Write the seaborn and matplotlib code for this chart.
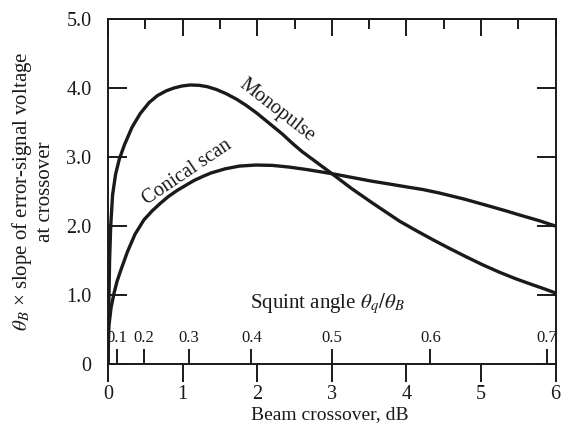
import numpy as np
import pandas as pd
import matplotlib
matplotlib.use("Agg")
import matplotlib.pyplot as plt
import seaborn as sns
from matplotlib.ticker import MultipleLocator

# ---- data ----
mono_db = [0.0, 0.005, 0.012, 0.02, 0.035, 0.06, 0.1, 0.15, 0.22, 0.32, 0.43, 0.55,
           0.66, 0.78, 0.88, 0.99, 1.1, 1.22, 1.33, 1.45, 1.58, 1.72, 1.85, 1.99,
           2.16, 2.34, 2.47, 2.6, 2.8, 3.0, 3.27, 3.55, 3.73, 3.91, 4.13, 4.35,
           4.58, 4.81, 5.03, 5.25, 5.47, 5.69, 5.85, 6.0]
mono_val = [0.0, 0.5, 1.0, 1.5, 2.0, 2.45, 2.75, 2.97, 3.18, 3.43, 3.63, 3.79,
            3.89, 3.96, 4.0, 4.03, 4.045, 4.04, 4.02, 3.98, 3.92, 3.84, 3.75, 3.64,
            3.49, 3.33, 3.2, 3.08, 2.92, 2.76, 2.54, 2.33, 2.2, 2.07, 1.935, 1.805,
            1.675, 1.55, 1.435, 1.33, 1.235, 1.15, 1.09, 1.03]
con_db = [0.0, 0.005, 0.01, 0.04, 0.08, 0.12, 0.17, 0.26, 0.36, 0.48, 0.59, 0.7,
          0.81, 0.93, 1.04, 1.15, 1.27, 1.38, 1.57, 1.76, 1.98, 2.2, 2.43, 2.66,
          2.83, 3.0, 3.27, 3.54, 3.77, 3.99, 4.22, 4.44, 4.78, 5.11, 5.32, 5.52,
          5.79, 6.0]
con_val = [0.0, 0.35, 0.55, 0.82, 1.03, 1.2, 1.36, 1.63, 1.88, 2.09, 2.22, 2.33,
           2.43, 2.52, 2.59, 2.66, 2.72, 2.77, 2.83, 2.87, 2.885, 2.88, 2.855, 2.82,
           2.79, 2.76, 2.705, 2.65, 2.61, 2.57, 2.53, 2.48, 2.39, 2.29, 2.225, 2.16,
           2.075, 2.0]
x_ticks = [0, 1, 2, 3, 4, 5, 6]
y_ticks = [0, 1, 2, 3, 4, 5]
y_labels = ["0", "1.0", "2.0", "3.0", "4.0", "5.0"]
squint_db = [0.12, 0.48, 1.08, 1.92, 3.0, 4.32, 5.88]
squint_labels = ["0.1", "0.2", "0.3", "0.4", "0.5", "0.6", "0.7"]

df = pd.concat([
    pd.DataFrame({"db": mono_db, "val": mono_val, "series": "Monopulse"}),
    pd.DataFrame({"db": con_db, "val": con_val, "series": "Conical scan"}),
])

sns.set_theme(style="white")
plt.rcParams["font.family"] = ["Liberation Serif", "DejaVu Serif"]
plt.rcParams["mathtext.fontset"] = "stix"

ink = "#1a1a1a"
fig = plt.figure(figsize=(5.63, 4.33), dpi=100)
ax = fig.add_axes([0.192, 0.159, 0.795, 0.797])

sns.lineplot(data=df, x="db", y="val", units="series", estimator=None,
             color=ink, lw=2.4, sort=False, ax=ax, legend=False)
for l in ax.lines:
    l.set_solid_joinstyle("round")
    l.set_solid_capstyle("round")

ax.set_xlim(0, 6)
ax.set_ylim(0, 5)
for s in ax.spines.values():
    s.set_visible(True)
    s.set_color(ink)
    s.set_linewidth(1.4)

ax.set_xticks(x_ticks)
ax.set_xticklabels([str(t) for t in x_ticks])
ax.tick_params(axis="x", direction="out", length=13, width=1.4, color=ink,
               labelsize=14.5, pad=2, bottom=True, top=False, labelcolor=ink)
ax.set_yticks(y_ticks)
ax.set_yticklabels(y_labels)
ax.tick_params(axis="y", direction="in", length=14, width=1.4, color=ink,
               labelsize=14.5, pad=12, left=True, right=True, labelcolor=ink)

# top ticks (inward)
top = ax.secondary_xaxis("top")
top.set_xticks(x_ticks)
top.xaxis.set_minor_locator(MultipleLocator(0.5))
top.tick_params(which="major", direction="in", length=12, width=1.4, color=ink,
                labeltop=False)
top.tick_params(which="minor", direction="in", length=7, width=1.4, color=ink)
top.set_xticklabels([])
top.spines["top"].set_linewidth(1.4)

# squint-angle scale drawn on the y=0 line
sq = ax.secondary_xaxis(0.0)
sq.set_alignment("top")
sq.set_xticks(squint_db)
sq.set_xticklabels(squint_labels)
sq.tick_params(direction="out", length=11, width=1.4, color=ink, labelsize=12,
               pad=2, labelcolor=ink)
for s in sq.spines.values():
    s.set_visible(False)

ax.text(2.94, 0.88, r"Squint angle $\theta_q/\theta_B$", fontsize=15,
        ha="center", va="center", color=ink)
ax.text(2.27, 3.68, "Monopulse", fontsize=14.5, rotation=-38,
        ha="center", va="center", color=ink)
ax.text(1.06, 2.78, "Conical scan", fontsize=14.5, rotation=34,
        ha="center", va="center", color=ink)

ax.set_xlabel("Beam crossover, dB", fontsize=14, color=ink)
ax.xaxis.set_label_coords(0.496, -0.122)
ax.set_ylabel(r"$\theta_B$ × slope of error-signal voltage" + "\nat crossover",
              fontsize=15, color=ink, linespacing=1.15)
ax.yaxis.set_label_coords(-0.118, 0.5)

fig.savefig("out.png", dpi=100, facecolor="white")
